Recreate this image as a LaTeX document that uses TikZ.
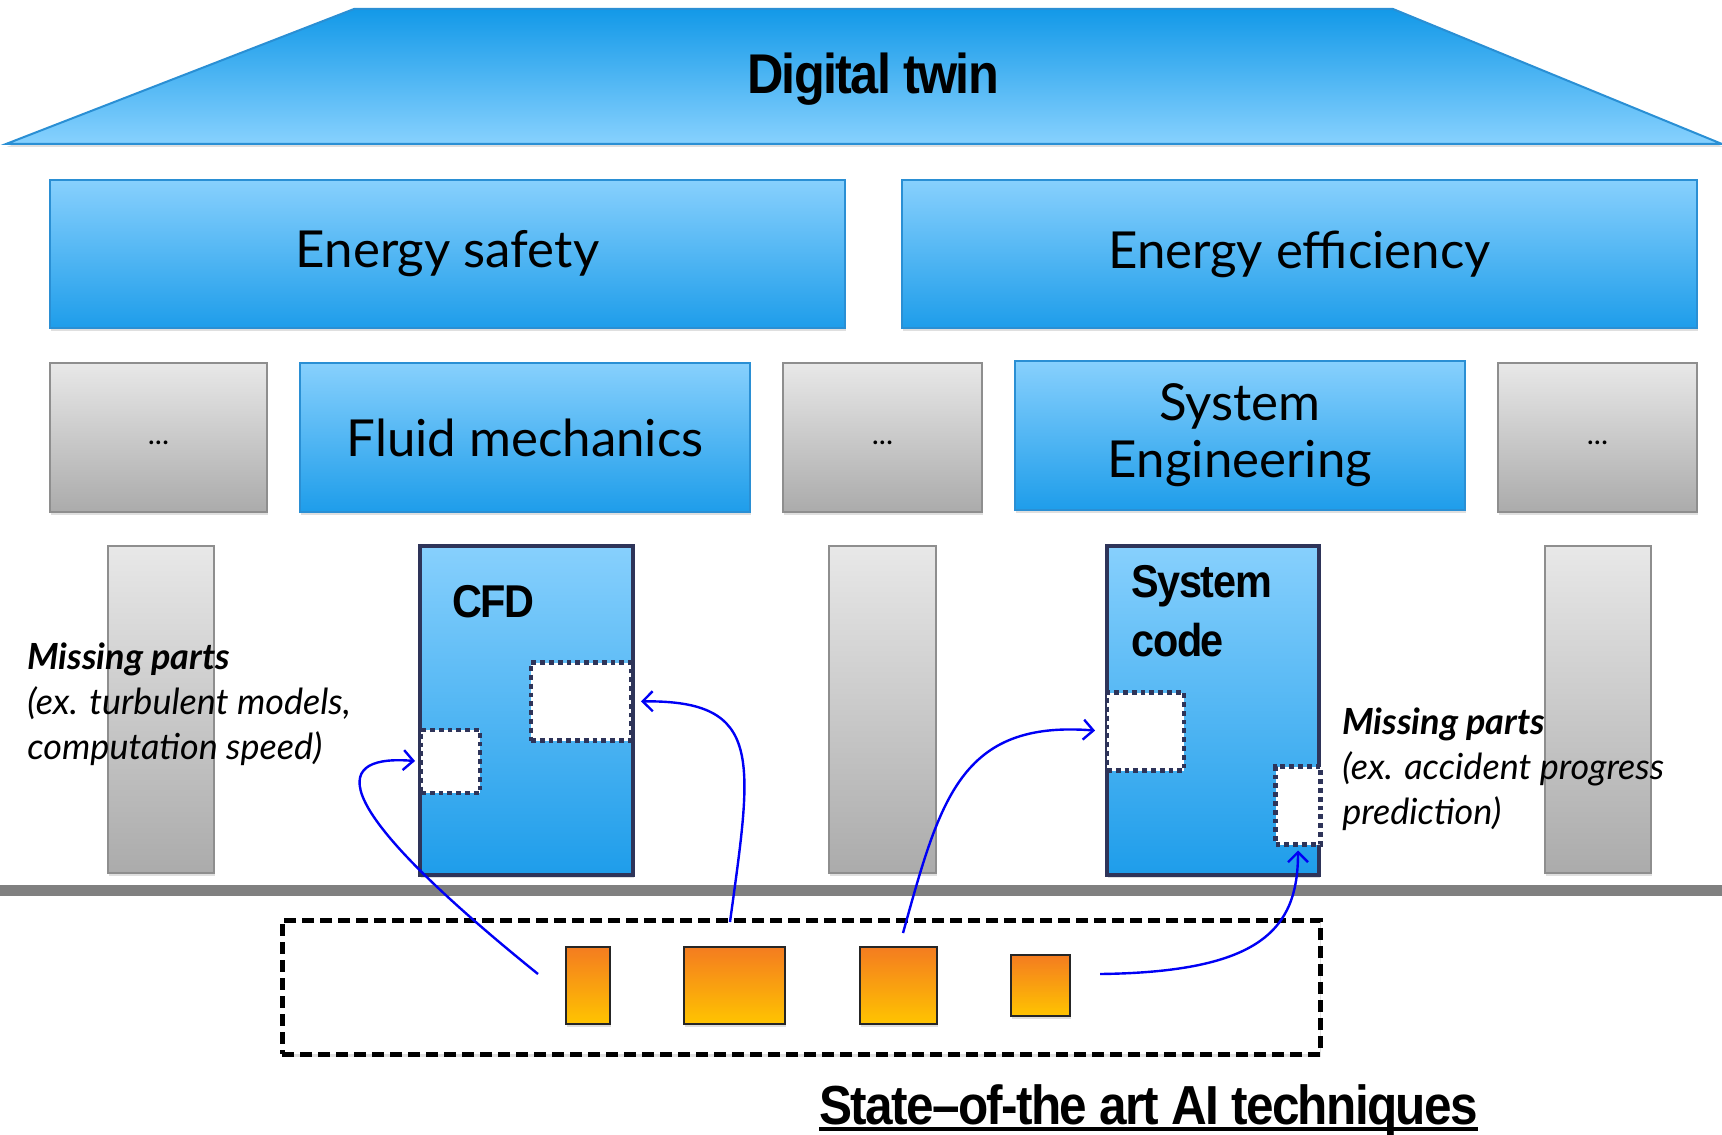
\documentclass[tikz,border=0pt]{standalone}
\usepackage{fontspec}
\setmainfont{Lato}
\newfontfamily\headfont[FakeStretch=0.9,LetterSpace=-3]{Liberation Sans}
\usetikzlibrary{arrows.meta,shadows}
\definecolor{bluetop}{HTML}{87D0FD}
\definecolor{bluebot}{HTML}{1E9DEA}
\definecolor{bluedge}{HTML}{2A8FD4}
\definecolor{rooftop}{HTML}{1399E8}
\definecolor{roofbot}{HTML}{87D1FE}
\definecolor{graytop}{HTML}{E8E8E8}
\definecolor{graybot}{HTML}{ABABAB}
\definecolor{grayedge}{HTML}{8E8E8E}
\definecolor{navy}{HTML}{2E3459}
\definecolor{aitop}{HTML}{F47C20}
\definecolor{aibot}{HTML}{FFC400}
\definecolor{linkblue}{HTML}{0000F5}
\definecolor{ground}{HTML}{808080}
\newcommand\setfs[2]{\fontsize{#1}{#2}\selectfont}
\begin{document}
\begin{tikzpicture}[x=0.5pt,y=-0.5pt,
  shadowed/.style={drop shadow={shadow xshift=0.6pt,shadow yshift=-1.4pt,opacity=0.25}},
  blubox/.style={draw=bluedge,line width=0.8pt,top color=bluetop,bottom color=bluebot,
    inner sep=0pt,outer sep=0pt,shadowed,align=center,font=\setfs{25.5}{28.5}},
  graybox/.style={draw=grayedge,line width=0.8pt,top color=graytop,bottom color=graybot,
    inner sep=0pt,outer sep=0pt,shadowed,font=\setfs{15}{17}},
  codebox/.style={draw=navy,line width=2pt,top color=bluetop,bottom color=bluebot,
    inner sep=0pt,outer sep=0pt,shadowed},
  gapbox/.style={draw=navy,fill=white,line width=2.2pt,dash pattern=on 2.4pt off 2pt,
    inner sep=0pt,outer sep=0pt},
  aibox/.style={draw=black!85,line width=0.8pt,top color=aitop,bottom color=aibot,
    inner sep=0pt,outer sep=0pt,shadowed},
  link/.style={draw=linkblue,line width=1.2pt,-{Straight Barb[length=5pt,width=10pt]}},
  head/.style={font=\headfont\bfseries\setfs{23}{29.5},inner sep=0pt,align=left},
  note/.style={font=\setfs{18}{22.5},inner sep=0pt,align=left,anchor=west}]
\useasboundingbox (0,0) rectangle (1722,1134);

% roof
\path[draw=bluedge,line width=1pt,top color=rooftop,bottom color=roofbot,shadowed]
  (354,9) -- (1393,9) -- (1722,144) -- (6,144) -- cycle;
\node[font=\headfont\bfseries\setfs{28}{32}] (twin) at (873,79) {Digital twin};

% goals
\node[blubox,minimum width=397.5pt,minimum height=74pt] (safety) at (447.5,254) {Energy safety};
\node[blubox,minimum width=397.5pt,minimum height=74pt] (effic) at (1299.5,254) {Energy efficiency};

% disciplines
\node[graybox,minimum width=108.5pt,minimum height=74.5pt] (g1) at (158.5,437.5) {\strut...};
\node[blubox,minimum width=225pt,minimum height=74.5pt] (fluid) at (525,437.5) {Fluid mechanics};
\node[graybox,minimum width=99.5pt,minimum height=74.5pt] (g2) at (882.5,437.5) {\strut...};
\node[blubox,minimum width=225pt,minimum height=74.5pt] (syseng) at (1240,435.5) {System\\Engineering};
\node[graybox,minimum width=99.5pt,minimum height=74.5pt] (g3) at (1597.5,437.5) {\strut...};

% pillars
\node[graybox,minimum width=53pt,minimum height=163.5pt] (p1) at (161,709.5) {};
\node[codebox,minimum width=106.5pt,minimum height=164.5pt] (cfd) at (526.5,710.5) {};
\node[graybox,minimum width=53.5pt,minimum height=163.5pt] (p3) at (882.5,709.5) {};
\node[codebox,minimum width=106pt,minimum height=164.5pt] (syscode) at (1213,710.5) {};
\node[graybox,minimum width=53pt,minimum height=163.5pt] (p5) at (1598,709.5) {};

\node[head,anchor=west] (cfdlbl) at (452,602) {CFD};
\node[head,anchor=west] (sclbl) at (1131,611) {System\\code};

% missing parts
\node[gapbox,minimum width=50pt,minimum height=39pt] (cfdA) at (581,701.5) {};
\node[gapbox,minimum width=29.5pt,minimum height=31.5pt] (cfdB) at (450.5,761.5) {};
\node[gapbox,minimum width=38.5pt,minimum height=39pt] (scA) at (1145.5,731.5) {};
\node[gapbox,minimum width=22.5pt,minimum height=39pt] (scB) at (1298,805.5) {};

% ground
\draw[ground,line width=5.5pt] (0,890) -- (1722,890);

% notes
\node[note] (mpl) at (27,704) {\textbf{\textit{Missing parts}}\\\textit{(ex. turbulent models,}\\\textit{computation speed)}};
\node[note] (mpr) at (1342,769) {\textbf{\textit{Missing parts}}\\\textit{(ex. accident progress}\\\textit{prediction)}};

% AI techniques
\node[draw=black,line width=2.5pt,dash pattern=on 6pt off 3pt,minimum width=519pt,minimum height=67pt,
  inner sep=0pt,shadowed,fill=white] (ai) at (801,987) {};
\node[aibox,minimum width=22pt,minimum height=38.5pt] (o1) at (588,985.5) {};
\node[aibox,minimum width=50.5pt,minimum height=38.5pt] (o2) at (734.5,985.5) {};
\node[aibox,minimum width=38.5pt,minimum height=38.5pt] (o3) at (898.5,985.5) {};
\node[aibox,minimum width=29.5pt,minimum height=30.5pt] (o4) at (1040.5,985.5) {};

\node[font=\headfont\bfseries\setfs{27.5}{32},inner sep=0pt,anchor=base west] (ttl) at (819,1124) {State–of-the art AI techniques};
\draw[line width=2pt] ([yshift=-2.5pt]ttl.base west) -- ([yshift=-2.5pt]ttl.base east);

% connectors
\coordinate (s1) at (538,974);
\coordinate (s2) at (730,922);
\coordinate (s3) at (903,933);
\coordinate (s4) at (1100,974);
\draw[link,shorten >=3pt] (s1) .. controls (310,790) and (340,755) .. (cfdB.west);
\draw[link,shorten >=5pt] (s2) .. controls (752,760) and (765,700) .. (cfdA.east);
\draw[link,shorten >=6pt] (s3) .. controls (940,800) and (960,720) .. (scA.west);
\draw[link,shorten >=3pt] (s4) .. controls (1260,972) and (1298,930) .. (scB.south);
\end{tikzpicture}
\end{document}
